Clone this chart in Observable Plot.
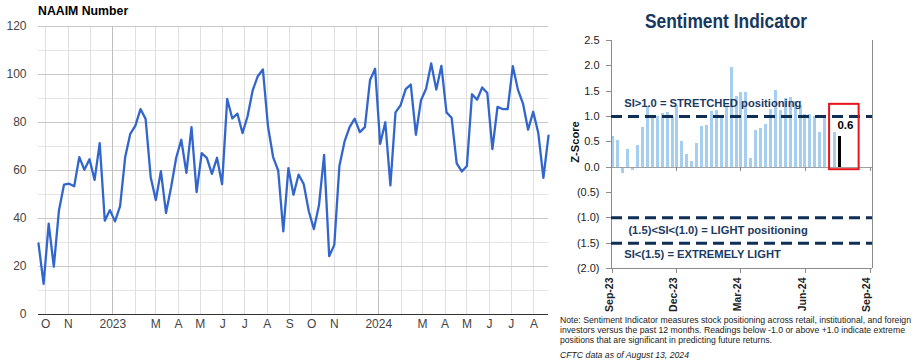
<!DOCTYPE html>
<html><head><meta charset="utf-8">
<script src="https://cdn.jsdelivr.net/npm/d3@7"></script>
<script src="https://cdn.jsdelivr.net/npm/@observablehq/plot@0.6"></script>
<style>
body{margin:0;background:#fff;font-family:"Liberation Sans",Arial,sans-serif;}
#wrap{position:relative;width:914px;height:363px;overflow:hidden;background:#fff;}
#wrap > svg{position:absolute;}
</style></head><body><div id="wrap"></div>
<script>
// ---------- Left chart: NAAIM Number (weekly) ----------
const naaimStart = "2022-09-21";
const naaimValues = [
  29.6, 12.8, 37.9, 19.9, 43.2, 54.1, 54.5, 53.4, 65.6, 60.3,
  64.7, 56.1, 71.4, 39.1, 43.5, 38.8, 45.2, 65.6, 75.3, 78.7,
  85.6, 81.5, 57.2, 47.7, 59.7, 42.3, 53.0, 65.3, 72.8, 59.0,
  78.1, 51.0, 67.2, 65.3, 58.6, 65.3, 54.3, 89.8, 81.7, 83.7,
  75.6, 82.6, 93.4, 99.3, 102.1, 78.4, 65.6, 60.0, 34.6, 61.0,
  49.9, 58.3, 54.4, 43.0, 35.6, 45.6, 66.5, 24.3, 29.0, 61.9,
  72.0, 78.1, 81.6, 76.0, 78.1, 97.6, 102.4, 71.1, 80.1, 53.8,
  84.2, 87.2, 93.9, 95.8, 74.9, 89.3, 94.1, 104.6, 93.7, 103.6,
  84.2, 82.0, 63.0, 59.6, 61.9, 91.8, 89.5, 94.6, 92.3, 68.9,
  86.5, 85.6, 85.6, 103.5, 93.7, 87.9, 77.0, 84.5, 75.6, 56.9,
  74.5
];
const leftMonthTicks = [
  "2022-10-01","2022-11-01","2022-12-01","2023-01-01","2023-02-01","2023-03-01",
  "2023-04-01","2023-05-01","2023-06-01","2023-07-01","2023-08-01","2023-09-01",
  "2023-10-01","2023-11-01","2023-12-01","2024-01-01","2024-02-01","2024-03-01",
  "2024-04-01","2024-05-01","2024-06-01","2024-07-01","2024-08-01"
];
const leftMonthLabels = [
  "O","N","","2023","","M","A","M","J","J","A","S","O","N","","2024","","M","A","M","J","J","A"
];
const leftYearTicks = ["2023-01-01","2024-01-01"];
const leftMajorY = [0,20,40,60,80,100,120];
const leftMinorY = [10,30,50,70,90,110];

// ---------- Right chart: Sentiment Indicator (weekly z-score) ----------
const sentStart = "2023-09-01";
const sentValues = [
  0.61, 0.52, -0.13, 0.34, -0.07, 0.42, 0.78, 1.20, 1.00, 1.00,
  1.05, 1.08, 1.00, 1.22, 0.50, 0.25, 0.11, 0.47, 0.80, 0.83,
  1.10, 1.12, 1.00, 1.20, 1.97, 1.39, 1.48, 1.48, 0.17, 0.73,
  0.76, 0.84, 1.13, 1.52, 1.12, 1.36, 1.38, 1.30, 1.22, 1.04,
  1.03, 1.00, 0.68, 1.02, null, 0.68, 0.60
];
const sentXDomain = ["2023-08-30","2024-09-04"];
const sentXTicks = ["2023-09-01","2023-12-01","2024-03-01","2024-06-01","2024-09-01"];
const sentXLabels = ["Sep-23","Dec-23","Mar-24","Jun-24","Sep-24"];
const sentYTicks = [2.5,2.0,1.5,1.0,0.5,0.0,-0.5,-1.0,-1.5,-2.0];
const thresholdLevels = [1.0,-1.0,-1.5];
const annotationTexts = ["SI>1.0 = STRETCHED positioning","(1.5)<SI<(1.0) = LIGHT positioning","SI<(1.5) = EXTREMELY LIGHT"];
const annotationDates = ["2023-09-17","2023-09-23","2023-09-17"];
const annotationLevels = [1.26,-1.24,-1.72];
const highlightBox = {x1:"2024-07-05", x2:"2024-08-16", y1:-0.05, y2:1.24};

const noteLines = [
  "Note: Sentiment Indicator measures stock positioning across retail, institutional, and foreign",
  "investors versus the past 12 months. Readings below -1.0 or above +1.0 indicate extreme",
  "positions that are significant in predicting future returns."
];
const sourceLine = "CFTC data as of August 13, 2024";

// ---------- Build ----------
const FONT = "'Liberation Sans', Arial, sans-serif";
const NS = "http://www.w3.org/2000/svg";
const CRISP = "crispEdges";
const toDate = s => new Date(s + "T00:00:00Z");
const wrap = document.getElementById("wrap");

// Text layer (behind the plots)
const ov = document.createElementNS(NS, "svg");
ov.setAttribute("width", 914); ov.setAttribute("height", 363);
ov.style.left = "0px"; ov.style.top = "0px";
ov.style.fontFamily = FONT;
wrap.appendChild(ov);
function addText(str, attrs) {
  const t = document.createElementNS(NS, "text");
  for (const k in attrs) t.setAttribute(k, attrs[k]);
  t.textContent = str;
  ov.appendChild(t);
  return t;
}
addText("NAAIM Number", {x: 38, y: 15, "font-size": 12.3, "font-weight": "bold", fill: "#000"});
addText("Sentiment Indicator", {x: 645, y: 28.3, "font-size": 21, "font-weight": "bold", fill: "#17375e", textLength: 162, lengthAdjust: "spacingAndGlyphs"});
addText("Z-Score", {transform: "translate(575,142) rotate(-90)", "text-anchor": "middle", dy: "0.35em", "font-size": 11.2, "font-weight": "bold", fill: "#111"});
const noteWidths = [351, 345, 212];
noteLines.forEach((s, i) => addText(s, {x: 560, y: 323.2 + 10 * i, "font-size": 8.7, fill: "#222", textLength: noteWidths[i], lengthAdjust: "spacingAndGlyphs"}));
addText(sourceLine, {x: 560, y: 357.5, "font-size": 8.7, "font-style": "italic", fill: "#222", textLength: 129, lengthAdjust: "spacingAndGlyphs"});

// Right plot
const sentData = sentValues.map((v, i) => ({date: d3.utcDay.offset(toDate(sentStart), 7 * i), value: v}));
const lastIdx = sentData.length - 1;
const histBars = sentData.filter((d, i) => d.value != null && i !== lastIdx);
const latest = [sentData[lastIdx]];
const yFmt = v => v < 0 ? "(" + Math.abs(v).toFixed(1) + ")" : v.toFixed(1);
const xDom = sentXDomain.map(toDate);
const xTicks = sentXTicks.map(toDate);
const annData = annotationTexts.map((t, i) => ({text: t, date: toDate(annotationDates[i]), y: annotationLevels[i]}));
const box = [{x1: toDate(highlightBox.x1), x2: toDate(highlightBox.x2), y1: highlightBox.y1, y2: highlightBox.y2}];

const right = Plot.plot({
  width: 354, height: 315,
  marginLeft: 51, marginRight: 42, marginTop: 40, marginBottom: 47,
  style: {fontFamily: FONT, fontSize: "11px", background: "transparent"},
  x: {type: "utc", domain: xDom, axis: null},
  y: {domain: [-2, 2.5], label: null, axis: null},
  marks: [
    Plot.ruleX(histBars, {x: "date", y1: 0, y2: "value", stroke: "#a6cef0", strokeWidth: 3, shapeRendering: CRISP}),
    Plot.ruleX(latest, {x: "date", y1: 0, y2: "value", stroke: "#000", strokeWidth: 3, shapeRendering: CRISP}),
    Plot.ruleY([0], {stroke: "#a0a0a0", shapeRendering: CRISP}),
    Plot.ruleX(xTicks.slice(1), {x: d => d, y1: 0, y2: -0.09, stroke: "#909090", shapeRendering: CRISP}),
    Plot.ruleX(xDom, {stroke: "#8c8c8c", shapeRendering: CRISP}),
    Plot.ruleY([-2], {stroke: "#8c8c8c", shapeRendering: CRISP}),
    Plot.ruleX(xTicks, {x: d => d, y1: -2, y2: -2.1, stroke: "#8c8c8c", shapeRendering: CRISP}),
    Plot.ruleY(sentYTicks, {x1: xDom[0], x2: xDom[0], insetLeft: -5, stroke: "#8c8c8c", shapeRendering: CRISP}),
    Plot.ruleY(thresholdLevels, {stroke: "#0f2f57", strokeWidth: 3, strokeDasharray: "11,6"}),
    Plot.rect(box, {x1: "x1", x2: "x2", y1: "y1", y2: "y2", fill: "none", stroke: "#e8141b", strokeWidth: 2}),
    Plot.text(latest, {x: "date", y: "value", text: d => d.value.toFixed(1), dx: 6, dy: -11, fontWeight: "bold", fontSize: 11.5, fill: "#000"}),
    Plot.text(annData, {x: "date", y: "y", text: "text", textAnchor: "start", fontWeight: "bold", fontSize: 11.2, fill: "#1b3a5f"}),
    Plot.text(sentYTicks, {y: d => d, text: yFmt, frameAnchor: "left", dx: -12, textAnchor: "end", fill: "#222", fontSize: 11}),
    Plot.text(xTicks, {x: d => d, text: (d, i) => sentXLabels[i], frameAnchor: "bottom", dy: 9, rotate: -90, textAnchor: "end", fontWeight: "bold", fontSize: 10.5, fill: "#222"})
  ]
});
right.style.left = "560px"; right.style.top = "0px";
wrap.appendChild(right);

// Left plot: grid + line in one svg, labels in a second svg sharing the same scales
const naaimData = naaimValues.map((v, i) => ({date: d3.utcDay.offset(toDate(naaimStart), 7 * i), value: v}));
const monthDates = leftMonthTicks.map(toDate);
const labelMap = new Map(leftMonthTicks.map((s, i) => [toDate(s).getTime(), leftMonthLabels[i]]));
const yearSet = new Set(leftYearTicks.map(s => toDate(s).getTime()));
const monthPlain = monthDates.filter(d => !yearSet.has(d.getTime()));
const monthYear = monthDates.filter(d => yearSet.has(d.getTime()));
const leftFrame = {
  width: 560, height: 340,
  marginLeft: 38, marginRight: 12, marginTop: 26, marginBottom: 26,
  style: {fontFamily: FONT, fontSize: "12px", background: "transparent"},
  x: {type: "utc", domain: d3.extent(naaimData, d => d.date), axis: null},
  y: {domain: [0, 120], label: null, axis: null}
};

const left = Plot.plot({
  ...leftFrame,
  marks: [
    Plot.ruleY(leftMinorY, {stroke: "#e4e4e4", shapeRendering: CRISP}),
    Plot.ruleX(monthPlain, {stroke: "#e0e0e0", shapeRendering: CRISP}),
    Plot.ruleY(leftMajorY, {stroke: "#c8c8c8", shapeRendering: CRISP}),
    Plot.ruleX(monthYear, {stroke: "#c0c0c0", shapeRendering: CRISP}),
    Plot.lineY(naaimData, {x: "date", y: "value", stroke: "#3366cc", strokeWidth: 2.3}),
    Plot.ruleY([0], {stroke: "#333333", strokeWidth: 1, shapeRendering: CRISP})
  ]
});
left.style.left = "0px"; left.style.top = "0px";
wrap.appendChild(left);

const leftLabels = Plot.plot({
  ...leftFrame,
  marks: [
    Plot.text(leftMajorY, {y: d => d, text: d => String(d), frameAnchor: "left", dx: -12, textAnchor: "end", fill: "#444", fontSize: 12}),
    Plot.text(monthDates, {x: d => d, text: d => labelMap.get(d.getTime()), frameAnchor: "bottom", dy: 13.5, fill: "#444", fontSize: 12})
  ]
});
leftLabels.style.left = "0px"; leftLabels.style.top = "0px";
wrap.appendChild(leftLabels);
</script>
</body></html>
